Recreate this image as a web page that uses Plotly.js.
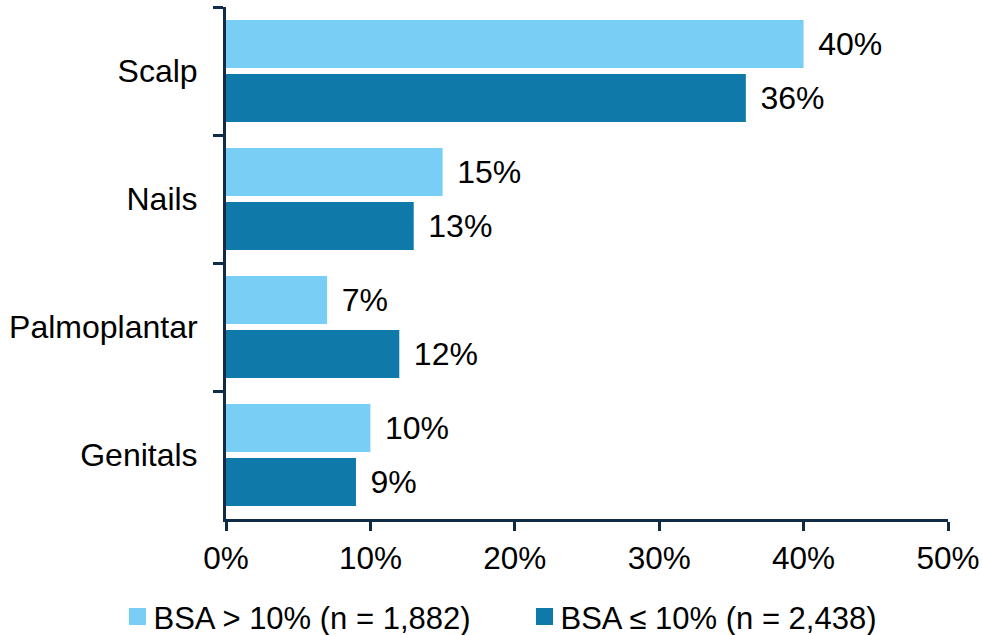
<!DOCTYPE html>
<html>
<head>
<meta charset="utf-8">
<script src="https://cdn.plot.ly/plotly-3.0.1.min.js"></script>
<style>html,body{margin:0;padding:0;background:#fff;}#chart{width:982px;height:635px;}</style>
</head>
<body>
<div id="chart"></div>
<script>
const categories = ["Scalp", "Nails", "Palmoplantar", "Genitals"];
const seriesNames = ["BSA > 10% (n = 1,882)", "BSA \u2264 10% (n = 2,438)"];
const bsaHigh = [40, 15, 7, 10];
const bsaLow = [36, 13, 12, 9];
const xTickVals = [0, 10, 20, 30, 40, 50];
const xTickText = ["0%", "10%", "20%", "30%", "40%", "50%"];

const FONT = "Liberation Sans, Arial, sans-serif";
const AXIS = "#0F2B47";

function barTrace(name, values, color) {
  return {
    type: "bar",
    orientation: "h",
    name: name,
    y: categories,
    x: values,
    text: values.map(v => "\u00a0\u200a" + v + "%"),
    texttemplate: "%{text}",
    marker: {color: color, line: {width: 0}},
    textposition: "outside",
    constraintext: "none",
    cliponaxis: false,
    textfont: {family: FONT, size: 32, color: "#000"},
    hoverinfo: "skip"
  };
}

const data = [
  barTrace(seriesNames[0], bsaHigh, "#78CEF4"),
  barTrace(seriesNames[1], bsaLow, "#0F79AA")
];

const layout = {
  width: 982, height: 635,
  margin: {l: 226, r: 34, t: 7, b: 116, autoexpand: false},
  paper_bgcolor: "#fff", plot_bgcolor: "#fff",
  barmode: "group",
  bargap: 0.156,
  bargroupgap: 0.111,
  font: {family: FONT, size: 31, color: "#000"},
  xaxis: {
    range: [0, 50],
    tickvals: xTickVals,
    ticktext: xTickText,
    showgrid: false,
    zeroline: false,
    showline: true,
    linecolor: AXIS,
    linewidth: 3,
    ticks: "outside",
    ticklen: 9,
    tickwidth: 3,
    tickcolor: AXIS,
    tickfont: {family: FONT, size: 31.5, color: "#000"},
    ticklabelstandoff: 0,
    automargin: false,
    fixedrange: true
  },
  yaxis: {
    type: "category",
    autorange: "reversed",
    showgrid: false,
    zeroline: false,
    showline: true,
    linecolor: AXIS,
    linewidth: 3,
    ticks: "outside",
    tickson: "boundaries",
    ticklen: 10,
    tickwidth: 3,
    tickcolor: AXIS,
    tickfont: {family: FONT, size: 32, color: "#000"},
    ticklabelstandoff: 19,
    automargin: false,
    fixedrange: true
  },
  showlegend: true,
  legend: {
    orientation: "h",
    x: -0.1503, xanchor: "left",
    y: -0.191, yanchor: "middle",
    font: {family: FONT, size: 31, color: "#000"},
    traceorder: "normal",
    itemwidth: 30,
    entrywidth: 362
  }
};

Plotly.newPlot("chart", data, layout, {displayModeBar: false, staticPlot: true}).then(function (gd) {
  gd.querySelectorAll(".legendpoints path").forEach(function (p) {
    p.setAttribute("transform", (p.getAttribute("transform") || "") + " scale(1.42)");
  });
  gd.querySelectorAll(".legendtext").forEach(function (t) {
    const x = parseFloat(t.getAttribute("x") || "40");
    t.setAttribute("x", x - 4);
  });
});
</script>
</body>
</html>
